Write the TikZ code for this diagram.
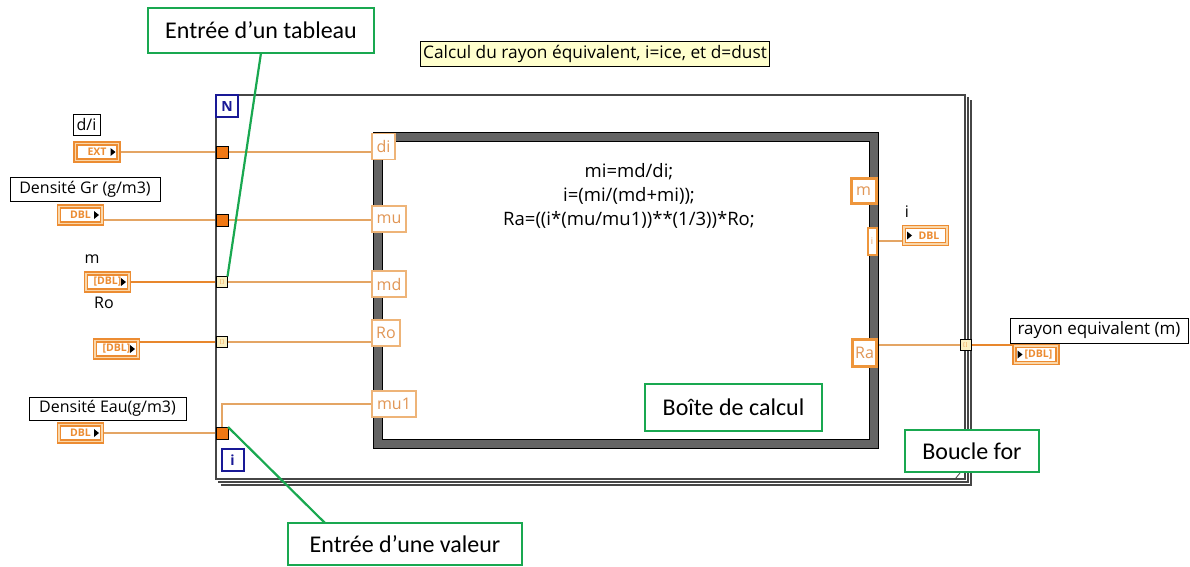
\documentclass[tikz,border=0pt]{standalone}
\usepackage{fontspec}
\setmainfont{Open Sans}
\newfontfamily\calfont{Carlito}
\newfontfamily\lvfont{Open Sans}
\usetikzlibrary{backgrounds}
\definecolor{cGreen}{RGB}{25,168,80}
\definecolor{cOr}{RGB}{236,140,50}
\definecolor{cOrL}{RGB}{250,215,170}
\definecolor{cTermB}{RGB}{238,180,120}
\definecolor{cTermT}{RGB}{225,150,85}
\definecolor{cOut}{RGB}{238,150,60}
\definecolor{cWire}{RGB}{228,165,100}
\definecolor{cAWire}{RGB}{232,135,45}
\definecolor{cTun}{RGB}{240,120,20}
\definecolor{cATun}{RGB}{250,240,195}
\definecolor{cFrame}{RGB}{70,70,70}
\definecolor{cBox}{RGB}{100,100,100}
\definecolor{cBlue}{RGB}{25,25,150}
\definecolor{cNote}{RGB}{255,255,205}
\begin{document}
\begin{tikzpicture}[x=1pt,y=-1pt,
  every node/.style={inner sep=0pt, outer sep=0pt},
  callout/.style={draw=cGreen, line width=2.4, fill=white, font=\calfont\fontsize{24}{28}\selectfont},
  lbl/.style={draw=black, line width=1, fill=white, font=\lvfont\fontsize{16}{18}\selectfont},
  txt/.style={font=\lvfont\fontsize{16}{18}\selectfont},
  ctl/.style={draw=cOr, line width=1.5, double=cOrL, double distance=1.4, fill=white,
     minimum width=43, minimum height=17, text=cOr, font=\lvfont\bfseries\fontsize{10.5}{12}\selectfont},
  term/.style={draw=cTermB, line width=1.3, fill=white, text=cTermT, minimum height=26,
     font=\lvfont\fontsize{16}{18}\selectfont},
  oterm/.style={term, draw=cOut, line width=3},
  tun/.style={draw=black, line width=0.9, fill=cTun, minimum size=12},
  atun/.style={draw=black, line width=0.9, fill=cATun, minimum size=11, text=cOr,
     font=\lvfont\fontsize{5}{5}\selectfont},
  wire/.style={draw=cWire, line width=1.4},
  awire/.style={draw=cAWire, line width=2.6},
  lead/.style={draw=cGreen, line width=2.2},
  frame/.style={draw=cFrame, line width=1.4},
  iter/.style={draw=cBlue, line width=2, fill=white, text=cBlue, minimum width=22, minimum height=22,
     font=\lvfont\bfseries\fontsize{14}{16}\selectfont},
  fbox/.style={draw=black, line width=0.8, double=cBox, double distance=8.4, fill=white,
     minimum width=496, minimum height=307}
]
\useasboundingbox (0,0) rectangle (1190,566);

% for loop frame
\draw[frame] (216,95) rectangle (965,479);
\draw[frame] (968,97) -- (968,482) -- (218,482);
\draw[frame] (971,100) -- (971,485) -- (221,485);
\draw[frame, line width=0.8] (955,479) -- (960,473);

\node[iter] (N) at (227,106) {N};
\node[iter] (I) at (232.5,460) {i};

% formula node
\node[fbox] (fn) at (626,290.5) {};
\node[txt, font=\lvfont\fontsize{18.5}{24}\selectfont, align=center] (code) at (629,196)
  {mi=md/di;\\i=(mi/(md+mi));\\Ra=((i*(mu/mu1))**(1/3))*Ro;};

% input terminals
\node[term, minimum width=23] (di) at (383.5,146.5) {di};
\node[term, minimum width=34] (mu) at (389,219) {mu};
\node[term, minimum width=34] (md) at (389,284) {md};
\node[term, minimum width=28] (ro) at (386,333) {Ro};
\node[term, minimum width=44] (mua) at (394,404) {mu1};
% output terminals
\node[oterm, minimum width=25, minimum height=25] (om) at (863.5,191) {m};
\node[oterm, line width=2, minimum width=9, minimum height=27, font=\lvfont\fontsize{9}{10}\selectfont] (oi) at (872,241) {i};
\node[oterm, minimum width=24, minimum height=27] (ora) at (864.5,352.5) {Ra};

% labels and controls
\node[lbl, minimum width=27, minimum height=21] (ldi) at (86.5,124.5) {d/i};
\node[ctl] (cext) at (97,152) {EXT\hspace{7pt}};
\node[lbl, minimum width=150, minimum height=24] (lgr) at (85,189) {Densité Gr (g/m3)};
\node[ctl] (cgr) at (80.5,215) {DBL\hspace{7pt}};
\node[txt] (lm) at (92,259) {m};
\node[ctl] (cm) at (107.5,282) {[DBL]\hspace{5pt}};
\node[txt] (lro) at (104,303) {Ro};
\node[ctl] (cro) at (116.5,349) {[DBL]\hspace{5pt}};
\node[lbl, minimum width=157, minimum height=23] (leau) at (107.5,408.5) {Densité Eau(g/m3)};
\node[ctl] (ceau) at (80.5,433) {DBL\hspace{7pt}};
% triangles
\foreach \c in {cext,cgr,cm,cro,ceau}{
  \fill (\c.east) ++(-8,-4) -- ++(5,4) -- ++(-5,4) -- cycle;
}

% tunnels
\node[tun] (t1) at (222,152) {};
\node[tun] (t2) at (222,220) {};
\node[atun] (t3) at (222,282) {[\,]};
\node[atun] (t4) at (222,342) {[\,]};
\node[tun] (t5) at (222,433) {};
\node[atun] (t6) at (965.5,345) {[\,]};

% output indicators
\node[txt] (li) at (907,212) {i};
\node[ctl] (ci) at (925.5,235.5) {\hspace{7pt}DBL};
\node[lbl, minimum width=178, minimum height=25, font=\lvfont\fontsize{17}{19}\selectfont] (lray) at (1099,330.5) {rayon equivalent (m)};
\node[ctl] (cray) at (1036,354.5) {\hspace{5pt}[DBL]};
\foreach \c in {ci,cray}{
  \fill (\c.west) ++(3,-4) -- ++(5,4) -- ++(-5,4) -- cycle;
}

% note
\node[draw=black, line width=0.9, fill=cNote, inner xsep=3pt, minimum height=25,
  font=\lvfont\fontsize{17.3}{19}\selectfont] (note) at (595,53.5)
  {Calcul du rayon équivalent, i=ice, et d=dust};

% wires
\begin{pgfonlayer}{background}
\draw[wire] (cext.east) -- (t1.west);
\draw[wire] (t1.east) -- (t1.east -| di.west);
\draw[wire] (t2.west -| cgr.east) -- (t2.west);
\draw[wire] (t2.east) -- (t2.east -| mu.west);
\draw[awire] (t3.west -| cm.east) -- (t3.west);
\draw[wire] (t3.east) -- (t3.east -| md.west);
\draw[awire] (t4.west -| cro.east) -- (t4.west);
\draw[wire] (t4.east) -- (t4.east -| ro.west);
\draw[wire] (ceau.east) -- (t5.west);
\draw[wire] (t5.north) |- (mua.west);
\draw[wire] (oi.east) -- (oi.east -| ci.west);
\draw[wire] (t6.west -| ora.east) -- (t6.west);
\draw[awire] (t6.east) -- (t6.east -| cray.west);
\end{pgfonlayer}

% callouts
\node[callout, minimum width=226, minimum height=45] (ca) at (261,30.5) {Entrée d’un tableau};
\node[callout, minimum width=234, minimum height=42] (cv) at (405,544) {Entrée d’une valeur};
\node[callout, minimum width=177, minimum height=47] (cb) at (733.5,407.5) {Boîte de calcul};
\node[callout, minimum width=134, minimum height=42] (cf) at (972,451) {Boucle for};
\draw[lead] (ca.south) -- (t3.north east);
\draw[lead] (t5.north east) -- ([xshift=-80pt]cv.north);
\end{tikzpicture}
\end{document}
